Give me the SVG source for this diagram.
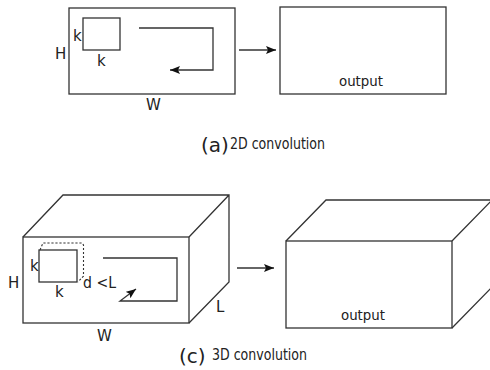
<svg xmlns="http://www.w3.org/2000/svg" width="490" height="370" viewBox="0 0 490 370">
<style>
.s{fill:none;stroke:#333;stroke-width:1.3;stroke-linejoin:miter}
.d{fill:none;stroke:#333;stroke-width:1.1;stroke-dasharray:2.2,1.8}
.t{font-family:"DejaVu Sans",Verdana,sans-serif;font-size:15px;fill:#222}
.o{font-family:"DejaVu Sans",Verdana,sans-serif;font-size:14px;fill:#222}
.cp{font-family:"DejaVu Sans",Verdana,sans-serif;font-size:20px;fill:#222}
.cs{font-family:"DejaVu Sans",Verdana,sans-serif;font-size:15px;fill:#222}
</style>
<defs>
<marker id="ah" markerWidth="12" markerHeight="10" refX="10" refY="4" orient="auto" markerUnits="userSpaceOnUse">
<path d="M0,0 L10,4 L0,8 L2,4 Z" fill="#111"/>
</marker>
</defs>
<rect width="490" height="370" fill="#fff"/>
<g id="input2d">
<rect class="s" x="69" y="8" width="166" height="86"/>
<rect class="s" x="83" y="18" width="37" height="32"/>
<path class="s" d="M139,28 H213 V70 H170" marker-end="url(#ah)"/>
<text class="t" x="55" y="59">H</text>
<text class="t" x="73" y="41">k</text>
<text class="t" x="97" y="66">k</text>
<text class="t" x="146" y="110">W</text>
</g>
<g id="output2d">
<rect class="s" x="280" y="7" width="166" height="87"/>
<text class="o" x="361" y="86" text-anchor="middle" textLength="44" lengthAdjust="spacingAndGlyphs">output</text>
</g>
<g id="caption-a">
<text class="cp" x="201" y="152">(a)</text>
<text class="cs" x="230" y="149" textLength="95" lengthAdjust="spacingAndGlyphs">2D convolution</text>
</g>
<g id="input3d">
<path class="s" d="M23,237 L63,195 H229 V282 L189,323 M189,237 L229,195"/>
<rect class="s" x="23" y="237" width="166" height="86"/>
<path class="d" d="M40,250 L43,243 H82 L83.5,245 V276 L78,282"/>
<rect class="s" x="39" y="250" width="38" height="32"/>
<path class="s" d="M103,258 H177 V301 H120 L136,289" marker-end="url(#ah)"/>
<text class="t" x="8" y="288">H</text>
<text class="t" x="30" y="271">k</text>
<text class="t" x="55" y="297">k</text>
<text class="t" x="83" y="288" textLength="33" lengthAdjust="spacingAndGlyphs">d &lt;L</text>
<text class="t" x="216" y="312">L</text>
<text class="t" x="97" y="341">W</text>
</g>
<g id="output3d">
<path class="s" d="M286,241 L326,200 H494 M452,241 L494,198 M452,328 L494,285"/>
<rect class="s" x="286" y="241" width="166" height="87"/>
<text class="o" x="363" y="320" text-anchor="middle" textLength="44" lengthAdjust="spacingAndGlyphs">output</text>
</g>
<g id="caption-c">
<text class="cp" x="179" y="363">(c)</text>
<text class="cs" x="212" y="360" textLength="95" lengthAdjust="spacingAndGlyphs">3D convolution</text>
</g>
<g id="connectors">
<line class="s" x1="239" y1="50" x2="276" y2="50" marker-end="url(#ah)"/>
<line class="s" x1="237" y1="268" x2="274" y2="268" marker-end="url(#ah)"/>
</g>
</svg>
